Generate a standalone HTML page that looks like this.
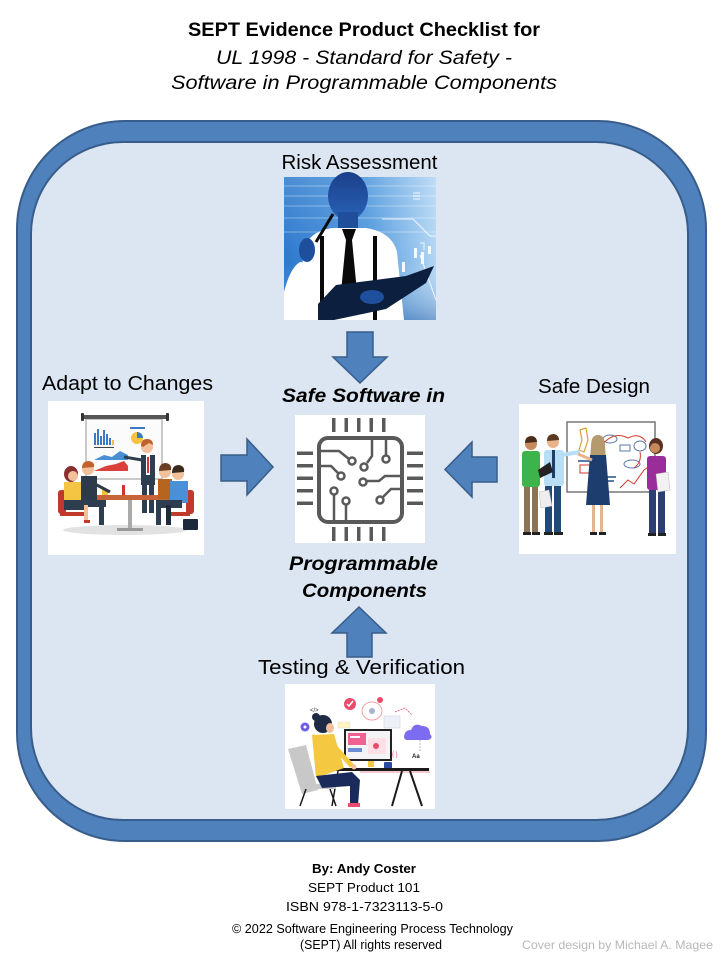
<!DOCTYPE html>
<html><head><meta charset="utf-8"><style>
html,body{margin:0;padding:0;background:#fff;}
svg{display:block;}
text{font-family:"Liberation Sans",sans-serif;}
</style></head><body>
<svg width="720" height="960" viewBox="0 0 720 960" xmlns="http://www.w3.org/2000/svg">
<defs>
<linearGradient id="rbg" x1="0" x2="1" y1="0" y2="0"><stop offset="0" stop-color="#2c78cc"/><stop offset="0.55" stop-color="#4f98dd"/><stop offset="1" stop-color="#b3d6f4"/></linearGradient>
<linearGradient id="rbg2" x1="0" x2="0" y1="0" y2="1"><stop offset="0" stop-color="#ffffff" stop-opacity="0.15"/><stop offset="0.6" stop-color="#ffffff" stop-opacity="0"/><stop offset="1" stop-color="#0a3f8c" stop-opacity="0.35"/></linearGradient>
<linearGradient id="head" x1="0" x2="0" y1="0" y2="1"><stop offset="0" stop-color="#1a3f8a"/><stop offset="1" stop-color="#2a62b8"/></linearGradient>
</defs>

<!-- Title -->
<text x="364" y="36" text-anchor="middle" font-size="19" font-weight="bold" textLength="352" lengthAdjust="spacingAndGlyphs">SEPT Evidence Product Checklist for</text>
<text x="364" y="64" text-anchor="middle" font-size="19" font-style="italic" textLength="296" lengthAdjust="spacingAndGlyphs">UL 1998 - Standard for Safety -</text>
<text x="364" y="89" text-anchor="middle" font-size="19" font-style="italic" textLength="386" lengthAdjust="spacingAndGlyphs">Software in Programmable  Components</text>

<!-- Frame -->
<rect x="17" y="121" width="689" height="720" rx="108" ry="108" fill="#4f81bd" stroke="#385d8a" stroke-width="2"/>
<rect x="31" y="142" width="657" height="678" rx="92" ry="92" fill="#dce6f2" stroke="#385d8a" stroke-width="2"/>

<!-- Labels -->
<text x="359.5" y="169" text-anchor="middle" font-size="20" textLength="156" lengthAdjust="spacingAndGlyphs">Risk Assessment</text>
<text x="42" y="390" font-size="20" textLength="171" lengthAdjust="spacingAndGlyphs">Adapt to Changes</text>
<text x="538" y="393" font-size="20" textLength="112" lengthAdjust="spacingAndGlyphs">Safe Design</text>
<text x="258" y="674" font-size="20" textLength="207" lengthAdjust="spacingAndGlyphs">Testing &amp; Verification</text>

<text x="282" y="402" font-size="19" font-weight="bold" font-style="italic" textLength="163" lengthAdjust="spacingAndGlyphs">Safe Software in</text>
<text x="289" y="570" font-size="19" font-weight="bold" font-style="italic" textLength="149" lengthAdjust="spacingAndGlyphs">Programmable</text>
<text x="302" y="597" font-size="19" font-weight="bold" font-style="italic" textLength="125" lengthAdjust="spacingAndGlyphs">Components</text>

<!-- Arrows -->
<g fill="#4f81bd" stroke="#385d8a" stroke-width="1.5" stroke-linejoin="miter">
<polygon points="347,332 373,332 373,357 387,357 360,383 333,357 347,357"/>
<polygon points="221,455 247,455 247,439 273,467 247,495 247,481 221,481"/>
<polygon points="497,457 472,457 472,442 445,469.5 472,497 472,482 497,482"/>
<polygon points="347,657 372,657 372,633 386,633 359,607 332,633 347,633"/>
</g>

<!-- Risk Assessment image -->
<g>
<rect x="284" y="177" width="152" height="143" fill="url(#rbg)"/>
<g stroke="#ffffff" stroke-opacity="0.18" stroke-width="2">
<line x1="284" y1="186" x2="436" y2="186"/><line x1="284" y1="196" x2="436" y2="196"/><line x1="284" y1="206" x2="436" y2="206"/><line x1="284" y1="218" x2="436" y2="218"/><line x1="284" y1="232" x2="436" y2="232"/>
</g>
<rect x="284" y="177" width="152" height="143" fill="url(#rbg2)"/>
<g stroke="#ffffff" stroke-width="1" fill="none" opacity="0.85">
<polyline points="382,219 413,219 430,236 436,236"/>
<line x1="413" y1="193" x2="420" y2="193"/><line x1="413" y1="196" x2="420" y2="196"/><line x1="413" y1="199" x2="420" y2="199"/>
<polyline points="420,243 424,243 424,250"/>
<line x1="420" y1="255" x2="436" y2="300"/>
</g>
<g fill="#ffffff" opacity="0.9">
<rect x="414" y="248" width="3" height="10"/><rect x="421" y="252" width="3" height="12"/><rect x="428" y="246" width="3" height="8"/><rect x="402" y="262" width="3" height="10"/>
</g>
<g fill="#0d1d3a">
<rect x="300" y="300" width="3" height="14"/><rect x="294" y="305" width="3" height="10"/>
</g>
<ellipse cx="348" cy="196" rx="20" ry="24" fill="url(#head)"/>
<rect x="338" y="212" width="20" height="18" fill="#1f4e9a"/>
<path d="M300,320 L303,252 Q307,232 332,228 L366,228 Q392,232 397,252 L404,320 Z" fill="#ffffff"/>
<path d="M284,320 L284,292 Q290,268 300,262 L313,264 L306,300 L302,320 Z" fill="#ffffff"/>
<ellipse cx="307" cy="250" rx="8" ry="12" fill="#1e4f9c"/>
<line x1="316" y1="242" x2="333" y2="214" stroke="#0a0a0a" stroke-width="3"/>
<polygon points="342,229 356,229 352,240 357,292 349,302 341,292 346,240" fill="#0a0a0a"/>
<rect x="320" y="236" width="4" height="84" fill="#0a0a0a"/>
<rect x="373" y="236" width="4" height="84" fill="#0a0a0a"/>
<polygon points="318,304 336,285 406,276 434,266 426,283 386,309 334,320 318,320" fill="#0d1f3f"/>
<ellipse cx="372" cy="297" rx="12" ry="7" fill="#1e4f9c"/>
</g>

<!-- Adapt to Changes image -->
<g>
<rect x="48" y="401" width="156" height="154" fill="#ffffff"/>
<rect x="86" y="419" width="76" height="60" fill="#fbfbfb" stroke="#b8b8b8" stroke-width="1.5"/>
<rect x="82" y="415" width="86" height="4" rx="2" fill="#555"/>
<rect x="81" y="413" width="3" height="8" rx="1" fill="#333"/>
<rect x="166" y="413" width="3" height="8" rx="1" fill="#333"/>
<g fill="#3a7bc8">
<rect x="94" y="433" width="2" height="12"/><rect x="97" y="429" width="2" height="16"/><rect x="100" y="436" width="2" height="9"/><rect x="103" y="430" width="2" height="15"/><rect x="106" y="434" width="2" height="11"/><rect x="109" y="438" width="2" height="7"/>
</g>
<rect x="112" y="440" width="2" height="5" fill="#f0c040"/>
<g fill="#444"><rect x="94" y="447" width="20" height="1"/></g>
<circle cx="137" cy="438" r="6" fill="#f5c242"/>
<path d="M137,438 L137,432 A6,6 0 0 1 143,438 Z" fill="#3a7bc8"/>
<rect x="130" y="427" width="15" height="2" fill="#3a7bc8"/>
<polygon points="94,460 104,455 112,457 120,451 128,455 128,460" fill="#4a8fd4"/>
<polygon points="94,471 106,466 116,464 124,461 128,466 128,471" fill="#d9413a"/>
<ellipse cx="125" cy="530" rx="62" ry="5" fill="#e2e2e2"/>
<!-- presenter -->
<rect x="141" y="455" width="14" height="30" fill="#2c3e50"/>
<rect x="146" y="455" width="4" height="20" fill="#fff"/>
<rect x="147" y="457" width="2" height="16" fill="#d93030"/>
<rect x="142" y="485" width="5" height="28" fill="#2c3e50"/>
<rect x="149" y="485" width="5" height="28" fill="#2c3e50"/>
<line x1="142" y1="460" x2="124" y2="457" stroke="#2c3e50" stroke-width="3"/>
<circle cx="147" cy="447" r="6" fill="#f2c09a"/>
<path d="M141,446 Q141,439 147,439 Q153,439 153,445 L149,443 L143,447 Z" fill="#c0622d"/>
<!-- table -->
<rect x="85" y="495" width="92" height="5" rx="2" fill="#c8643a"/>
<rect x="128" y="500" width="4" height="30" fill="#aaa"/>
<rect x="117" y="528" width="26" height="3" fill="#999"/>
<rect x="102" y="489" width="6" height="6" fill="#f0c040"/>
<rect x="122" y="485" width="3" height="10" fill="#d93030"/>
<!-- chairs -->
<rect x="58" y="490" width="8" height="24" rx="3" fill="#c0392b"/>
<rect x="60" y="512" width="24" height="4" fill="#c0392b"/>
<rect x="186" y="490" width="8" height="24" rx="3" fill="#c0392b"/>
<rect x="166" y="512" width="24" height="4" fill="#c0392b"/>
<!-- left people -->
<ellipse cx="71" cy="474" rx="7" ry="8" fill="#8b2e2e"/>
<circle cx="73" cy="476" r="5" fill="#f2c09a"/>
<rect x="64" y="482" width="18" height="22" fill="#f4c542"/>
<rect x="64" y="500" width="24" height="10" fill="#2c3e50"/>
<rect x="84" y="505" width="4" height="18" fill="#f2c09a"/>
<rect x="84" y="520" width="6" height="3" fill="#c0392b"/>
<circle cx="88" cy="469" r="6" fill="#f2c09a"/>
<path d="M82,468 Q82,461 89,461 Q95,462 94,467 Z" fill="#c0622d"/>
<rect x="81" y="476" width="16" height="24" fill="#2d3a4a"/>
<rect x="88" y="500" width="18" height="7" fill="#2c3e50"/>
<rect x="99" y="505" width="5" height="20" fill="#2c3e50"/>
<line x1="95" y1="484" x2="110" y2="492" stroke="#2d3a4a" stroke-width="3"/>
<!-- right people -->
<circle cx="165" cy="472" r="6" fill="#f2c09a"/>
<path d="M159,471 Q159,463 166,463 Q172,464 171,470 Z" fill="#6b3e26"/>
<rect x="158" y="479" width="14" height="20" fill="#b5651d"/>
<circle cx="178" cy="474" r="6" fill="#f2c09a"/>
<path d="M172,473 Q172,465 179,465 Q185,466 184,472 Z" fill="#3a2a1a"/>
<rect x="170" y="481" width="18" height="22" fill="#4a90d9"/>
<rect x="156" y="500" width="26" height="8" fill="#2c3e50"/>
<rect x="156" y="505" width="5" height="20" fill="#2c3e50"/>
<rect x="166" y="505" width="5" height="20" fill="#1f2a3a"/>
<rect x="183" y="519" width="15" height="11" rx="1" fill="#1e2a3a"/>
</g>

<!-- Safe Design image -->
<g>
<rect x="519" y="404" width="157" height="150" fill="#ffffff"/>
<rect x="567" y="422" width="88" height="70" fill="#ffffff" stroke="#777" stroke-width="1.5"/>
<path d="M580,430 L586,428 L588,440 L584,452 L579,450 L582,440 Z" fill="none" stroke="#d8a040" stroke-width="1.2"/>
<g fill="#ffffff" stroke="#5a7aa8" stroke-width="1">
<ellipse cx="610" cy="439" rx="7" ry="4"/><rect x="620" y="445" width="10" height="6"/><ellipse cx="640" cy="446" rx="6" ry="5"/><ellipse cx="632" cy="464" rx="8" ry="4"/>
</g>
<path d="M600,448 Q612,430 628,438 Q640,432 646,442 M640,452 Q642,462 634,468" fill="none" stroke="#d03a2a" stroke-width="1"/>
<polyline points="620,488 628,480 634,484 644,470 650,466" fill="none" stroke="#d03a2a" stroke-width="1"/>
<rect x="580" y="465" width="10" height="8" fill="none" stroke="#d03a2a" stroke-width="1"/>
<rect x="578" y="460" width="14" height="2" fill="#5a7aa8"/>
<rect x="606" y="476" width="10" height="2" fill="#5a7aa8"/><rect x="606" y="480" width="8" height="2" fill="#5a7aa8"/>
<!-- person green -->
<circle cx="531" cy="444" r="6" fill="#c68a5d"/>
<path d="M525,443 Q525,436 532,436 Q537,437 537,442 Z" fill="#4a2a18"/>
<rect x="522" y="451" width="18" height="36" rx="3" fill="#3cb44b"/>
<rect x="524" y="487" width="6" height="46" fill="#8b7355"/>
<rect x="532" y="487" width="6" height="46" fill="#8b7355"/>
<rect x="523" y="532" width="8" height="3" fill="#222"/><rect x="532" y="532" width="8" height="3" fill="#222"/>
<!-- man blue shirt -->
<circle cx="553" cy="442" r="6" fill="#e8b48a"/>
<path d="M547,441 Q547,434 554,434 Q559,435 559,440 Z" fill="#5a3a20"/>
<rect x="544" y="450" width="20" height="36" rx="3" fill="#b8def5"/>
<rect x="552" y="450" width="3" height="28" fill="#1f3f6a"/>
<line x1="562" y1="455" x2="580" y2="452" stroke="#b8def5" stroke-width="4"/>
<rect x="545" y="486" width="7" height="47" fill="#1f4a7a"/>
<rect x="554" y="486" width="7" height="47" fill="#1f4a7a"/>
<polygon points="538,470 550,462 553,472 540,478" fill="#222"/>
<polygon points="539,492 549,490 552,506 541,508" fill="#eeeeee" stroke="#bbb" stroke-width="0.5"/>
<rect x="544" y="532" width="9" height="3" fill="#222"/><rect x="554" y="532" width="9" height="3" fill="#222"/>
<!-- woman navy -->
<path d="M591,446 Q591,435 598,435 Q605,435 605,446 L606,460 L590,460 Z" fill="#b59a6e"/>
<polygon points="590,455 606,455 610,505 586,505" fill="#1d3d6e"/>
<line x1="592" y1="460" x2="578" y2="454" stroke="#e8b48a" stroke-width="3"/>
<rect x="592" y="505" width="3" height="28" fill="#e8b48a"/><rect x="600" y="505" width="3" height="28" fill="#e8b48a"/>
<rect x="590" y="532" width="7" height="3" fill="#222"/><rect x="599" y="532" width="7" height="3" fill="#222"/>
<!-- woman purple -->
<ellipse cx="656" cy="446" rx="7" ry="8" fill="#5a3020"/>
<circle cx="655" cy="448" r="5" fill="#c68a5d"/>
<rect x="647" y="456" width="19" height="34" rx="3" fill="#9b2d9b"/>
<rect x="649" y="490" width="7" height="44" fill="#2c3e72"/>
<rect x="658" y="490" width="7" height="44" fill="#2c3e72"/>
<polygon points="656,474 668,472 670,490 658,492" fill="#f2f2f2" stroke="#bbb" stroke-width="0.5"/>
<rect x="648" y="533" width="8" height="3" fill="#222"/><rect x="658" y="533" width="8" height="3" fill="#222"/>
</g>

<!-- Chip image -->
<g>
<rect x="295" y="415" width="130" height="128" fill="#ffffff"/>
<g fill="#595959">
<rect x="332" y="418" width="3.5" height="14"/><rect x="344.5" y="418" width="3.5" height="14"/><rect x="357" y="418" width="3.5" height="14"/><rect x="369.5" y="418" width="3.5" height="14"/><rect x="382" y="418" width="3.5" height="14"/>
<rect x="332" y="527" width="3.5" height="14"/><rect x="344.5" y="527" width="3.5" height="14"/><rect x="357" y="527" width="3.5" height="14"/><rect x="369.5" y="527" width="3.5" height="14"/><rect x="382" y="527" width="3.5" height="14"/>
<rect x="297" y="451.5" width="16" height="3.5"/><rect x="297" y="464" width="16" height="3.5"/><rect x="297" y="476.5" width="16" height="3.5"/><rect x="297" y="489" width="16" height="3.5"/><rect x="297" y="501.5" width="16" height="3.5"/>
<rect x="407" y="451.5" width="16" height="3.5"/><rect x="407" y="464" width="16" height="3.5"/><rect x="407" y="476.5" width="16" height="3.5"/><rect x="407" y="489" width="16" height="3.5"/><rect x="407" y="501.5" width="16" height="3.5"/>
</g>
<rect x="319" y="438" width="83" height="84" rx="9" fill="none" stroke="#595959" stroke-width="4"/>
<g fill="none" stroke="#595959" stroke-width="2.5">
<polyline points="321,451 339,451 349,459"/><circle cx="352" cy="461" r="3.5"/>
<polyline points="372,438 372,456 367,463"/><circle cx="364" cy="467" r="3.5"/>
<line x1="386" y1="438" x2="386" y2="455"/><circle cx="386" cy="459" r="3.5"/>
<polyline points="321,466 331,466 338,473"/><circle cx="341" cy="476" r="3.5"/>
<polyline points="367,481 379,481 385,476 401,476"/><circle cx="363" cy="482" r="3.5"/>
<circle cx="334" cy="491" r="3.5"/><line x1="334" y1="495" x2="334" y2="521"/>
<circle cx="346" cy="501" r="3.5"/><line x1="346" y1="505" x2="346" y2="521"/>
<circle cx="380" cy="500" r="3.5"/><polyline points="383,497 391,489 401,489"/>
</g>
</g>

<!-- Testing image -->
<g>
<rect x="285" y="684" width="150" height="125" fill="#ffffff"/>
<circle cx="350" cy="704" r="6" fill="#e94b6a"/>
<polyline points="347,704 349,706 353,701" fill="none" stroke="#fff" stroke-width="1.5"/>
<ellipse cx="372" cy="711" rx="10" ry="9" fill="none" stroke="#f0a0a8" stroke-width="1"/>
<circle cx="372" cy="711" r="3" fill="#aab0d0"/>
<circle cx="380" cy="700" r="3" fill="#e94b6a"/>
<text x="310" y="712" font-size="6" fill="#333">&lt;/&gt;</text>
<circle cx="305" cy="727" r="4.5" fill="#6c5ce7"/>
<circle cx="305" cy="727" r="1.5" fill="#fff"/>
<path d="M404,738 Q404,730 411,730 Q414,722 422,726 Q430,726 430,734 Q434,738 428,740 L406,740 Z" fill="#7c6cf0"/>
<line x1="420" y1="740" x2="420" y2="752" stroke="#aaa" stroke-width="0.8" stroke-dasharray="2,1"/>
<path d="M395,712 L405,708 L412,715" fill="none" stroke="#e94b6a" stroke-width="0.8" stroke-dasharray="2,1"/>
<rect x="384" y="716" width="16" height="12" fill="#eef0f8" stroke="#ccd" stroke-width="0.5"/>
<rect x="344" y="729" width="48" height="32" fill="#222"/>
<rect x="346" y="731" width="44" height="28" fill="#f4f4f6"/>
<rect x="348" y="733" width="18" height="12" fill="#f06292"/>
<rect x="350" y="736" width="10" height="2" fill="#fff"/>
<rect x="368" y="738" width="18" height="16" fill="#ffe0e6"/>
<circle cx="376" cy="746" r="3" fill="#e94b6a"/>
<rect x="348" y="748" width="14" height="4" fill="#6c8cd5"/>
<rect x="338" y="722" width="12" height="6" fill="#fff3c4" stroke="#ddd" stroke-width="0.5"/>
<text x="392" y="756" font-size="6" fill="#e94b6a">{ }</text>
<text x="412" y="758" font-size="6" font-weight="bold" fill="#222">Aa</text>
<rect x="368" y="761" width="6" height="6" fill="#f5c842"/>
<rect x="384" y="762" width="8" height="8" rx="1" fill="#2b4aa0"/>
<!-- desk -->
<rect x="325" y="768" width="104" height="3" fill="#1a1a1a"/>
<rect x="360" y="771" width="70" height="2" fill="#f6c9d2"/>
<line x1="402" y1="771" x2="392" y2="806" stroke="#1a1a1a" stroke-width="2"/>
<line x1="410" y1="771" x2="422" y2="806" stroke="#1a1a1a" stroke-width="2"/>
<line x1="338" y1="771" x2="332" y2="806" stroke="#1a1a1a" stroke-width="1.5"/>
<!-- chair -->
<polygon points="288,749 306,745 318,790 302,794" fill="#c8c8c8"/>
<rect x="300" y="784" width="36" height="5" fill="#c8c8c8"/>
<line x1="306" y1="789" x2="300" y2="806" stroke="#1a1a1a" stroke-width="1.5"/>
<line x1="330" y1="789" x2="336" y2="806" stroke="#1a1a1a" stroke-width="1.5"/>
<!-- woman -->
<circle cx="323" cy="724" r="9" fill="#1f2a44"/>
<circle cx="316" cy="717" r="4" fill="#1f2a44"/>
<ellipse cx="330" cy="728" rx="4" ry="5" fill="#f2c09a"/>
<polygon points="312,735 334,734 344,768 316,778" fill="#f5c842"/>
<line x1="332" y1="744" x2="352" y2="766" stroke="#f5c842" stroke-width="5"/>
<circle cx="354" cy="767" r="2.5" fill="#f2c09a"/>
<path d="M316,776 L352,772 L360,780 L358,805 L350,805 L350,786 L322,788 Z" fill="#1a2a5a"/>
<rect x="348" y="803" width="12" height="4" fill="#e94b6a"/>
</g>

<!-- Footer -->
<text x="312" y="873" font-size="13" font-weight="bold" textLength="104" lengthAdjust="spacingAndGlyphs">By: Andy Coster</text>
<text x="308" y="892" font-size="13" textLength="112" lengthAdjust="spacingAndGlyphs">SEPT Product 101</text>
<text x="286" y="911" font-size="13" textLength="157" lengthAdjust="spacingAndGlyphs">ISBN 978-1-7323113-5-0</text>
<text x="232" y="933" font-size="12.5" textLength="281" lengthAdjust="spacingAndGlyphs">© 2022 Software Engineering Process Technology</text>
<text x="300" y="949" font-size="12.5" textLength="142" lengthAdjust="spacingAndGlyphs">(SEPT) All rights reserved</text>
<text x="522" y="949" font-size="12" fill="#b8b8b8" textLength="191" lengthAdjust="spacingAndGlyphs">Cover design by Michael A. Magee</text>
</svg>
</body></html>
